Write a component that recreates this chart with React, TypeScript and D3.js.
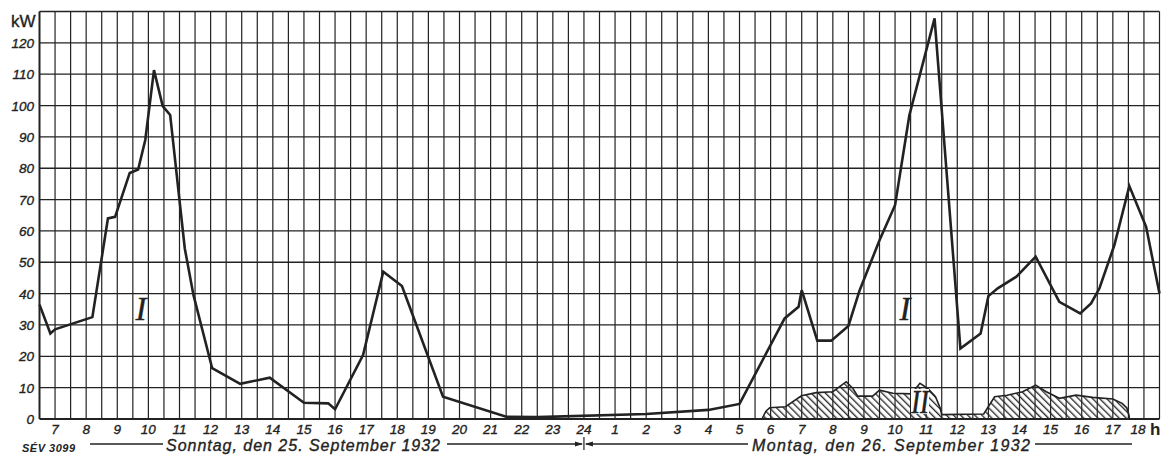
import React from "react";
import * as d3 from "d3";

// hours counted from Sunday 0h; Monday hours are 24 + h
const loadHours = [6.5, 6.85, 7.0, 8.2, 8.7, 8.93, 9.4, 9.67, 9.9, 10.18, 10.46, 10.7, 11.17, 11.45, 12.05, 12.95, 13.9, 15.0, 15.78, 16.0, 16.9, 17.55, 18.15, 19.47, 21.5, 22.5, 26.0, 28.0, 29.0, 30.45, 30.9, 31.0, 31.5, 31.95, 32.5, 32.86, 33.5, 34.0, 34.46, 35.27, 36.1, 36.75, 37.0, 37.3, 37.9, 38.52, 39.28, 39.95, 40.3, 40.57, 41.05, 41.53, 42.07, 42.5];
const loadKw = [36.5, 27.3, 28.6, 32.5, 64, 64.5, 78.5, 79.6, 89, 111.3, 99.8, 97, 54.4, 39.5, 16.2, 11.2, 13.2, 5.2, 5.0, 3.1, 20.4, 47, 42.4, 7.1, 0.7, 0.6, 1.6, 2.9, 4.8, 32.1, 35.8, 41.1, 25, 25, 29.7, 41, 57, 68.2, 96.9, 127.8, 22.5, 27.3, 39.2, 41.7, 45.4, 51.8, 37.4, 33.7, 36.9, 41.7, 55.5, 74.3, 61.3, 40];

const hatchHours = [29.72, 29.85, 29.97, 30.48, 30.99, 31.47, 32.0, 32.43, 32.64, 32.8, 33.28, 33.5, 33.93, 34.52, 34.8, 35.05, 35.3, 35.45, 35.5, 36.85, 37.2, 37.6, 38.1, 38.52, 38.86, 39.28, 39.82, 40.35, 41.0, 41.3, 41.45, 41.52, 41.53];
const hatchKw = [0, 2.5, 3.6, 3.9, 7.4, 8.4, 8.7, 11.9, 9.8, 7.3, 7.3, 9.2, 8.2, 8.0, 11.4, 9.8, 7.1, 3.5, 1.4, 1.6, 7.1, 7.6, 8.7, 10.8, 8.7, 6.6, 7.6, 6.9, 6.4, 5.0, 3.5, 1.2, 0];

const kwTicks = [0, 10, 20, 30, 40, 50, 60, 70, 80, 90, 100, 110, 120];
const hourTicks = d3.range(7, 43);

const W = 1161;
const H = 455;
const ink = "#222";

export default function App() {
  const x = d3.scaleLinear().domain([6.5, 42.5]).range([39.5, 1159.5]);
  const y = d3.scaleLinear().domain([0, 130]).range([419, 11.5]);

  const line = d3
    .line<number>()
    .x((d, i) => x(loadHours[i]))
    .y(d => y(d));

  const area = d3
    .area<number>()
    .x((d, i) => x(hatchHours[i]))
    .y0(y(0))
    .y1(d => y(d));

  const hatchLine = d3
    .line<number>()
    .x((d, i) => x(hatchHours[i]))
    .y(d => y(d));

  const vLines = d3.range(6.5, 42.51, 0.5);
  const hLines = d3.range(0, 131, 10);
  const tickFont = "'Liberation Sans', 'DejaVu Sans', sans-serif";
  const rowY = 444;
  const mid = x(24);
  const heavy = { stroke: ink, strokeWidth: 0.35 };

  return (
    <svg width={W} height={H} style={{ position: "absolute", left: 0, top: 0, background: "#fff" }}>
      <defs>
        <pattern id="hatch" patternUnits="userSpaceOnUse" width="5" height="5" patternTransform="rotate(-45)">
          <line x1="0.7" y1="0" x2="0.7" y2="5" stroke={ink} strokeWidth="1.3" />
        </pattern>
      </defs>

      {vLines.map(h => (
        <line key={"v" + h} x1={x(h)} x2={x(h)} y1={y(130)} y2={y(0)} stroke={ink} strokeWidth={h === 6.5 ? 2 : 1.2} />
      ))}
      {hLines.map(k => (
        <line key={"h" + k} x1={x(6.5)} x2={x(42.5)} y1={y(k)} y2={y(k)} stroke={ink} strokeWidth={k === 0 ? 2 : 1.3} />
      ))}

      <path d={area(hatchKw) || ""} fill="url(#hatch)" />
      <path d={hatchLine(hatchKw) || ""} fill="none" stroke={ink} strokeWidth={1.6} />
      <path d={line(loadKw) || ""} fill="none" stroke={ink} strokeWidth={2.6} strokeLinejoin="miter" />

      {/* curve labels */}
      <text x={141} y={320} fontFamily="'Liberation Serif', serif" fontStyle="italic" fontSize={33} fill={ink} textAnchor="middle" {...heavy}>I</text>
      <text x={905} y={320} fontFamily="'Liberation Serif', serif" fontStyle="italic" fontSize={33} fill={ink} textAnchor="middle" {...heavy}>I</text>
      <rect x={911} y={389} width={18} height={25} fill="#fff" />
      <text x={920} y={413} fontFamily="'Liberation Serif', serif" fontStyle="italic" fontSize={33} fill={ink} textAnchor="middle" transform="translate(920 0) scale(0.8 1) translate(-920 0)" stroke={ink} strokeWidth={0.6}>II</text>

      {/* y axis */}
      <text x={11} y={27} fontFamily={tickFont} fontSize={17} fill={ink} {...heavy}>kW</text>
      {kwTicks.map(k => (
        <text key={"yt" + k} x={34} y={y(k) + 5} textAnchor="end" fontFamily={tickFont} fontStyle="italic" fontSize={13.5} fill={ink} {...heavy}>
          {k}
        </text>
      ))}

      {/* x axis */}
      {hourTicks.map(h =>
        h === 42 ? (
          <g key={"xt" + h}>
            <text x={x(h) - 6} y={434} textAnchor="middle" fontFamily={tickFont} fontStyle="italic" fontSize={13.5} fill={ink} {...heavy}>18</text>
            <text x={1150} y={435} fontFamily={tickFont} fontWeight="bold" fontSize={17} fill={ink}>h</text>
          </g>
        ) : (
          <text key={"xt" + h} x={x(h)} y={434} textAnchor="middle" fontFamily={tickFont} fontStyle="italic" fontSize={13.5} fill={ink} {...heavy}>
            {h <= 24 ? h : h - 24}
          </text>
        )
      )}

      {/* day captions */}
      <text x={22} y={452} fontFamily={tickFont} fontStyle="italic" fontWeight="bold" fontSize={11} fill={ink} textLength={53}>SÉV 3099</text>
      <line x1={90} x2={163} y1={rowY} y2={rowY} stroke={ink} strokeWidth={1.3} />
      <text x={166} y={451} fontFamily={tickFont} fontStyle="italic" fontSize={16} fill={ink} textLength={274} {...heavy}>
        Sonntag, den 25. September 1932
      </text>
      <line x1={447} x2={mid - 2} y1={rowY} y2={rowY} stroke={ink} strokeWidth={1.3} />
      <line x1={mid} x2={mid} y1={rowY - 7} y2={rowY + 6} stroke={ink} strokeWidth={1.2} />
      <path d={`M${mid - 9},${rowY - 2.5} L${mid - 1},${rowY} L${mid - 9},${rowY + 2.5} Z`} fill={ink} />
      <path d={`M${mid + 9},${rowY - 2.5} L${mid + 1},${rowY} L${mid + 9},${rowY + 2.5} Z`} fill={ink} />
      <line x1={mid + 2} x2={748} y1={rowY} y2={rowY} stroke={ink} strokeWidth={1.3} />
      <text x={752} y={451} fontFamily={tickFont} fontStyle="italic" fontSize={16} fill={ink} textLength={278} {...heavy}>
        Montag, den 26. September 1932
      </text>
      <line x1={1035} x2={1132} y1={rowY} y2={rowY} stroke={ink} strokeWidth={1.3} />
    </svg>
  );
}
